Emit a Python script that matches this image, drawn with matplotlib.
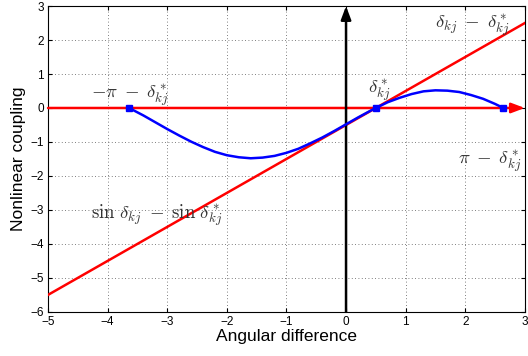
import matplotlib
matplotlib.use("Agg")
import matplotlib.pyplot as plt

plt.rcParams["font.family"] = ["Liberation Sans", "DejaVu Sans"]
plt.rcParams["mathtext.fontset"] = "cm"

# blue curve: coupling
curve_x = [-3.64, -3.4, -3.2, -3.0, -2.8, -2.6, -2.4, -2.2, -2.0, -1.8, -1.6,
           -1.4, -1.2, -1.0, -0.8, -0.6, -0.4, -0.2, 0.0, 0.2, 0.4, 0.5, 0.7,
           0.9, 1.1, 1.3, 1.5, 1.7, 1.9, 2.1, 2.3, 2.5, 2.64]
curve_y = [0.00, -0.22, -0.42, -0.62, -0.81, -0.99, -1.15, -1.29, -1.39, -1.45,
           -1.48, -1.46, -1.41, -1.32, -1.20, -1.04, -0.87, -0.68, -0.48, -0.28,
           -0.09, 0.00, 0.17, 0.30, 0.41, 0.49, 0.52, 0.51, 0.47, 0.38, 0.27,
           0.12, 0.00]

# red linear approximation
line_x = [-5, 3]
line_y = [-5.5, 2.5]

# equilibrium points
eq_x = [-3.64, 0.5, 2.64]
eq_y = [0, 0, 0]

labels = [r"$-\pi\;-\;\delta^*_{kj}$", r"$\delta^*_{kj}$", r"$\delta_{kj}\;-\;\delta^*_{kj}$",
          r"$\pi\;-\;\delta^*_{kj}$", r"$\sin\,\delta_{kj}\;-\;\sin\,\delta^*_{kj}$"]
label_x = [-3.62, 0.55, 2.11, 2.41, -3.17]
label_y = [0.38, 0.53, 2.44, -1.56, -3.15]

fig = plt.figure(figsize=(5.28, 3.56), dpi=100)
ax = fig.add_axes([0.091, 0.124, 0.903, 0.859])

ax.plot(line_x, line_y, color="red", lw=1.8, zorder=3)
ax.annotate("", xy=(3, 0), xytext=(-5, 0),
            arrowprops=dict(arrowstyle="-|>,head_length=0.8,head_width=0.3",
                            color="red", lw=1.8, shrinkA=0, shrinkB=0),
            annotation_clip=False, zorder=3)
ax.annotate("", xy=(0, 3), xytext=(0, -6),
            arrowprops=dict(arrowstyle="-|>,head_length=0.8,head_width=0.3",
                            color="black", lw=1.8, shrinkA=0, shrinkB=0),
            annotation_clip=False, zorder=4)
ax.plot(curve_x, curve_y, color="blue", lw=1.8, zorder=5)
ax.plot(eq_x, eq_y, "s", color="blue", ms=4.5, zorder=6)

for t, x, y in zip(labels, label_x, label_y):
    ax.text(x, y, t, ha="center", va="center", fontsize=13.5, color="#333333")

ax.set_xlim(-5, 3)
ax.set_ylim(-6, 3)
ax.set_xticks(range(-5, 4))
ax.set_yticks(range(-6, 4))
ax.set_xticklabels([str(v).replace("-", "\u2212") for v in range(-5, 4)])
ax.set_yticklabels([str(v).replace("-", "\u2212") for v in range(-6, 4)])
ax.tick_params(direction="in", length=3, labelsize=8.5, top=True, right=True, pad=3)
ax.grid(True, linestyle=(0, (1, 3)), color="#555555", lw=0.6)
for s in ax.spines.values():
    s.set_linewidth(0.8)
ax.set_xlabel("Angular difference", fontsize=12.5, labelpad=1)
ax.set_ylabel("Nonlinear coupling", fontsize=12.5, labelpad=3)

fig.savefig("out.png", dpi=100)
